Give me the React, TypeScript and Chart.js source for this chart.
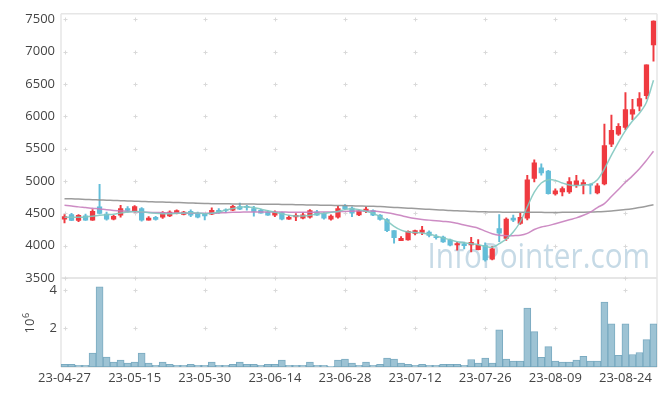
import React, { useEffect, useRef } from "react";
import { Chart, registerables } from "chart.js";

Chart.register(...registerables);

const dates = [
  "23-04-27", "23-04-28", "23-05-02", "23-05-03", "23-05-04", "23-05-08", "23-05-09", "23-05-10", "23-05-11", "23-05-12",
  "23-05-15", "23-05-16", "23-05-17", "23-05-18", "23-05-19", "23-05-22", "23-05-23", "23-05-24", "23-05-25", "23-05-26",
  "23-05-30", "23-05-31", "23-06-01", "23-06-02", "23-06-05", "23-06-07", "23-06-08", "23-06-09", "23-06-12", "23-06-13",
  "23-06-14", "23-06-15", "23-06-16", "23-06-19", "23-06-20", "23-06-21", "23-06-22", "23-06-23", "23-06-26", "23-06-27",
  "23-06-28", "23-06-29", "23-06-30", "23-07-03", "23-07-04", "23-07-05", "23-07-06", "23-07-07", "23-07-10", "23-07-11",
  "23-07-12", "23-07-13", "23-07-14", "23-07-17", "23-07-18", "23-07-19", "23-07-20", "23-07-21", "23-07-24", "23-07-25",
  "23-07-26", "23-07-27", "23-07-28", "23-07-31", "23-08-01", "23-08-02", "23-08-03", "23-08-04", "23-08-07", "23-08-08",
  "23-08-09", "23-08-10", "23-08-11", "23-08-14", "23-08-16", "23-08-17", "23-08-18", "23-08-21", "23-08-22", "23-08-23",
  "23-08-24", "23-08-25", "23-08-28", "23-08-29", "23-08-30",
];

const opens = [
  4410, 4480, 4390, 4460, 4395, 4600, 4490, 4410, 4470, 4575,
  4543, 4574, 4395, 4440, 4440, 4460, 4497, 4482, 4533, 4502,
  4490, 4487, 4548, 4555, 4548, 4604, 4610, 4574, 4548, 4518,
  4471, 4512, 4410, 4445, 4425, 4440, 4522, 4497, 4410, 4440,
  4615, 4580, 4475, 4526, 4543, 4472, 4405, 4232, 4078, 4088,
  4191, 4206, 4211, 4140, 4134, 4088, 4011, 4027, 4011, 3939,
  4000, 3790, 4265, 4110, 4425, 4345, 4425, 5040, 5205, 5155,
  4800, 4830, 4830, 4940, 4940, 4950, 4815, 4955, 5570, 5725,
  5830, 6035, 6160, 6320, 7105,
];
const highs = [
  4480, 4500, 4480, 4490, 4560, 4950, 4520, 4470, 4625, 4605,
  4620, 4590, 4450, 4455, 4528, 4540, 4553, 4530, 4553, 4520,
  4500, 4585, 4573, 4570, 4625, 4660, 4625, 4610, 4565, 4540,
  4540, 4520, 4470, 4497, 4515, 4558, 4548, 4512, 4476, 4610,
  4635, 4600, 4550, 4595, 4555, 4480, 4420, 4235, 4140, 4230,
  4240, 4298, 4230, 4170, 4150, 4100, 4052, 4052, 4129, 4093,
  4042, 3990, 4480, 4430, 4475, 4500, 5090, 5330, 5265, 5165,
  4880, 4910, 5055, 5090, 5020, 4955, 4960, 5880, 6020, 5890,
  6370, 6266, 6370, 6800, 7480,
];
const lows = [
  4350, 4385, 4370, 4390, 4390, 4490, 4395, 4400, 4440, 4520,
  4520, 4380, 4395, 4395, 4420, 4450, 4490, 4475, 4450, 4430,
  4400, 4480, 4500, 4510, 4543, 4558, 4550, 4456, 4502, 4466,
  4450, 4400, 4405, 4385, 4415, 4425, 4466, 4410, 4395, 4425,
  4558, 4450, 4465, 4510, 4465, 4395, 4216, 4037, 4078, 4083,
  4165, 4170, 4135, 4100, 4050, 3995, 3929, 3950, 3903, 3934,
  3760, 3780, 4060, 4080, 4370, 4330, 4400, 4985, 5090, 4795,
  4780, 4770, 4810, 4900, 4800, 4800, 4800, 4940, 5530, 5705,
  5795, 5950, 6085, 6270, 6855,
];
const closes = [
  4450, 4390, 4470, 4395, 4530, 4500, 4410, 4455, 4575, 4545,
  4604, 4395, 4425, 4405, 4512, 4518, 4543, 4518, 4471, 4440,
  4460, 4548, 4512, 4545, 4610, 4563, 4590, 4528, 4502, 4471,
  4518, 4410, 4440, 4470, 4476, 4543, 4471, 4425, 4456, 4574,
  4574, 4502, 4540, 4564, 4472, 4405, 4232, 4124, 4114, 4221,
  4232, 4242, 4160, 4125, 4058, 4006, 4032, 4001, 4052, 4006,
  3780, 3950, 4195, 4410, 4395, 4440, 5020, 5280, 5125, 4805,
  4850, 4885, 4990, 5005, 4975, 4935, 4925, 5550, 5785, 5845,
  6105, 6105, 6275, 6800, 7475,
];
const volumes = [
  140000, 140000, 90000, 90000, 720000, 4150000, 510000, 260000, 360000, 200000,
  260000, 720000, 200000, 90000, 260000, 140000, 90000, 90000, 140000, 90000,
  90000, 260000, 90000, 90000, 140000, 260000, 140000, 140000, 90000, 140000,
  140000, 360000, 90000, 90000, 90000, 260000, 90000, 90000, 40000, 360000,
  410000, 200000, 90000, 260000, 90000, 140000, 460000, 410000, 200000, 140000,
  90000, 140000, 90000, 90000, 140000, 140000, 140000, 90000, 390000, 200000,
  460000, 200000, 1930000, 410000, 310000, 310000, 3060000, 1830000, 500000, 1060000,
  310000, 260000, 260000, 360000, 550000, 310000, 310000, 3370000, 2240000, 600000,
  2240000, 650000, 750000, 1420000, 2240000,
];
const ma5 = [
  4440, 4440, 4440, 4445, 4455, 4470, 4480, 4485, 4505, 4520,
  4530, 4525, 4510, 4500, 4495, 4495, 4500, 4505, 4510, 4505,
  4495, 4500, 4520, 4550, 4575, 4595, 4600, 4590, 4565, 4540,
  4515, 4495, 4470, 4460, 4460, 4470, 4490, 4500, 4515, 4530,
  4560, 4570, 4555, 4530, 4500, 4450, 4380, 4300, 4240, 4210,
  4205, 4195, 4180, 4150, 4120, 4090, 4060, 4045, 4030, 4015,
  3990, 3975, 4030, 4100, 4210, 4370, 4600, 4830, 4970, 5020,
  5010, 4970, 4940, 4930, 4940, 4950, 5020, 5190, 5400, 5600,
  5780, 5930, 6050, 6220, 6560,
];
const ma20 = [
  4625, 4615, 4600, 4590, 4578, 4568, 4555, 4545, 4538, 4530,
  4525, 4520, 4516, 4513, 4510, 4507, 4505, 4503, 4502, 4500,
  4500, 4500, 4505, 4510, 4515, 4518, 4520, 4521, 4522, 4522,
  4522, 4520, 4518, 4516, 4515, 4517, 4518, 4520, 4522, 4526,
  4530, 4533, 4536, 4538, 4535, 4525, 4510, 4490, 4465, 4440,
  4420, 4405, 4395, 4385, 4375, 4365, 4345, 4320, 4295, 4270,
  4225, 4185, 4160, 4155, 4155, 4160, 4190, 4250, 4290, 4310,
  4340, 4370, 4400, 4430, 4470, 4520, 4590, 4650, 4760, 4870,
  4980, 5080, 5190, 5320, 5460,
];
const ma60 = [
  4727, 4724, 4720, 4716, 4712, 4708, 4704, 4700, 4696, 4692,
  4688, 4684, 4680, 4677, 4674, 4671, 4668, 4665, 4660, 4655,
  4652, 4650, 4648, 4647, 4646, 4645, 4644, 4643, 4642, 4641,
  4640, 4638, 4636, 4634, 4632, 4630, 4628, 4626, 4624, 4622,
  4620, 4617, 4614, 4611, 4608, 4604, 4598, 4592, 4586, 4580,
  4574, 4568, 4562, 4556, 4550, 4544, 4540, 4535, 4530, 4526,
  4523, 4521, 4519, 4518, 4517, 4517, 4516, 4515, 4515, 4514,
  4514, 4515, 4516, 4517, 4518, 4520, 4524, 4530, 4538, 4548,
  4558, 4572, 4590, 4610, 4632,
];
const priceTicks = [3500, 4000, 4500, 5000, 5500, 6000, 6500, 7000, 7500];
const volumeTicks = [2000000, 4000000];

const UP = "#ef3a40";
const DOWN = "#63bdd8";
const FONT = "Open Sans";

export default function App() {
  const ref = useRef<HTMLCanvasElement>(null);

  useEffect(() => {
    document.body.style.margin = "0";
    const canvas = ref.current!;
    const idx = dates.map((_, i) => i);
    const colors = idx.map((i) => (closes[i] >= opens[i] ? UP : DOWN));

    const decor = {
      id: "decor",
      beforeDatasetsDraw(chart: any) {
        const { ctx, chartArea, scales } = chart;
        const x = scales.x, y = scales.y, yv = scales.yv;
        // watermark
        ctx.save();
        ctx.font = `35px "${FONT}"`;
        const text = "InfoPointer.com";
        const m = ctx.measureText(text);
        const inkW = m.actualBoundingBoxLeft + m.actualBoundingBoxRight;
        const s = 218 / inkW;
        ctx.translate(430 + m.actualBoundingBoxLeft * s, 268);
        ctx.scale(s, 1);
        ctx.fillStyle = "#c6dae6";
        ctx.textBaseline = "alphabetic";
        ctx.fillText(text, 0, 0);
        ctx.restore();

        // borders
        ctx.save();
        ctx.strokeStyle = "#e6e6e6";
        ctx.lineWidth = 1.5;
        const split = y.bottom;
        ctx.beginPath();
        ctx.moveTo(chartArea.left, chartArea.top);
        ctx.lineTo(chartArea.right, chartArea.top);
        ctx.moveTo(chartArea.left, chartArea.top);
        ctx.lineTo(chartArea.left, chartArea.bottom);
        ctx.moveTo(chartArea.right, chartArea.top);
        ctx.lineTo(chartArea.right, chartArea.bottom);
        ctx.moveTo(chartArea.left, chartArea.bottom);
        ctx.lineTo(chartArea.right, chartArea.bottom);
        ctx.stroke();
        ctx.lineWidth = 2;
        ctx.beginPath();
        ctx.moveTo(chartArea.left, split);
        ctx.lineTo(chartArea.right, split);
        ctx.stroke();

        // grid crosses
        ctx.strokeStyle = "#d9d9d9";
        ctx.lineWidth = 1;
        const xs: number[] = [];
        for (let i = 0; i < dates.length; i += 10) xs.push(x.getPixelForValue(i));
        const ys: number[] = [
          ...priceTicks.map((v) => y.getPixelForValue(v)),
          ...volumeTicks.map((v) => yv.getPixelForValue(v)),
        ];
        ctx.beginPath();
        for (const px of xs) {
          for (const py of ys) {
            const cx = Math.round(px) + 0.5;
            const cy = Math.round(py) + 0.5;
            ctx.moveTo(cx - 2, cy);
            ctx.lineTo(cx + 2, cy);
            ctx.moveTo(cx, cy - 2);
            ctx.lineTo(cx, cy + 2);
          }
        }
        ctx.stroke();
        ctx.restore();
      },
      afterDraw(chart: any) {
        const { ctx, scales } = chart;
        const yv = scales.yv;
        const cy = (yv.top + yv.bottom) / 2;
        ctx.save();
        ctx.fillStyle = "#444";
        ctx.translate(34, cy + 11);
        ctx.rotate(-Math.PI / 2);
        ctx.font = `13px "${FONT}"`;
        ctx.textBaseline = "alphabetic";
        ctx.textAlign = "left";
        ctx.fillText("10", 0, 0);
        const w = ctx.measureText("10").width;
        ctx.font = `9px "${FONT}"`;
        ctx.fillText("6", w + 0.5, -5);
        ctx.restore();
      },
    };

    const tickFont = { family: FONT, size: 13 };

    const chart = new Chart(canvas, {
      type: "bar",
      data: {
        labels: dates,
        datasets: [
          {
            type: "line",
            label: "MA5",
            data: ma5,
            yAxisID: "y",
            borderColor: "rgba(130,200,192,0.9)",
            borderWidth: 1.5,
            pointRadius: 0,
            tension: 0.35,
            order: 0,
          } as any,
          {
            type: "line",
            label: "MA20",
            data: ma20,
            yAxisID: "y",
            borderColor: "rgba(200,128,190,0.9)",
            borderWidth: 1.5,
            pointRadius: 0,
            tension: 0.35,
            order: 0,
          },
          {
            type: "line",
            label: "MA60",
            data: ma60,
            yAxisID: "y",
            borderColor: "rgba(145,145,145,0.9)",
            borderWidth: 1.5,
            pointRadius: 0,
            tension: 0.35,
            order: 0,
          },
          {
            type: "bar",
            label: "body",
            data: idx.map((i) => [opens[i], closes[i]]),
            yAxisID: "y",
            backgroundColor: colors,
            barThickness: 4.6,
            grouped: false,
            order: 1,
          },
          {
            type: "bar",
            label: "wick",
            data: idx.map((i) => [lows[i], highs[i]]),
            yAxisID: "y",
            backgroundColor: colors,
            barThickness: 1.3,
            grouped: false,
            order: 2,
          },
          {
            type: "bar",
            label: "volume",
            data: volumes,
            yAxisID: "yv",
            backgroundColor: "#9dc3d4",
            borderColor: "rgba(90,150,178,0.8)",
            borderWidth: 1,
            borderSkipped: false,
            barPercentage: 1,
            categoryPercentage: 1,
            grouped: false,
            order: 3,
          },
        ] as any,
      },
      options: {
        animation: false,
        responsive: false,
        layout: { padding: { top: 10, right: 8, left: 0, bottom: 0 } },
        plugins: { legend: { display: false }, tooltip: { enabled: false } },
        scales: {
          x: {
            type: "category",
            offset: true,
            grid: { display: false, drawTicks: false },
            border: { display: false },
            ticks: {
              autoSkip: false,
              maxRotation: 0,
              minRotation: 0,
              padding: 3,
              color: "#444",
              font: tickFont,
              callback: (_v: any, i: number) => (i % 10 === 0 ? dates[i] : ""),
            },
            afterFit: (s: any) => {
              s.height = 29;
            },
          },
          yv: {
            type: "linear",
            position: "left",
            stack: "panels",
            stackWeight: 90,
            min: 0,
            max: 4615000,
            grid: { display: false, drawTicks: false },
            border: { display: false },
            ticks: {
              autoSkip: false,
              padding: 4,
              color: "#444",
              font: tickFont,
              callback: (v: any) => String(Number(v) / 1e6),
            },
            afterBuildTicks: (s: any) => {
              s.ticks = volumeTicks.map((v) => ({ value: v }));
            },
            afterFit: (s: any) => {
              s.width = 61;
            },
          },
          y: {
            type: "linear",
            position: "left",
            stack: "panels",
            stackWeight: 267,
            min: 3500,
            max: 7588,
            grid: { display: false, drawTicks: false },
            border: { display: false },
            ticks: {
              autoSkip: false,
              padding: 6,
              color: "#444",
              font: tickFont,
              callback: (v: any) => String(v),
            },
            afterBuildTicks: (s: any) => {
              s.ticks = priceTicks.map((v) => ({ value: v }));
            },
            afterFit: (s: any) => {
              s.width = 61;
            },
          },
        } as any,
      },
      plugins: [decor],
    });

    return () => chart.destroy();
  }, []);

  return (
    <div style={{ width: 665, height: 396 }}>
      <canvas ref={ref} width={665} height={396} style={{ display: "block" }} />
    </div>
  );
}
